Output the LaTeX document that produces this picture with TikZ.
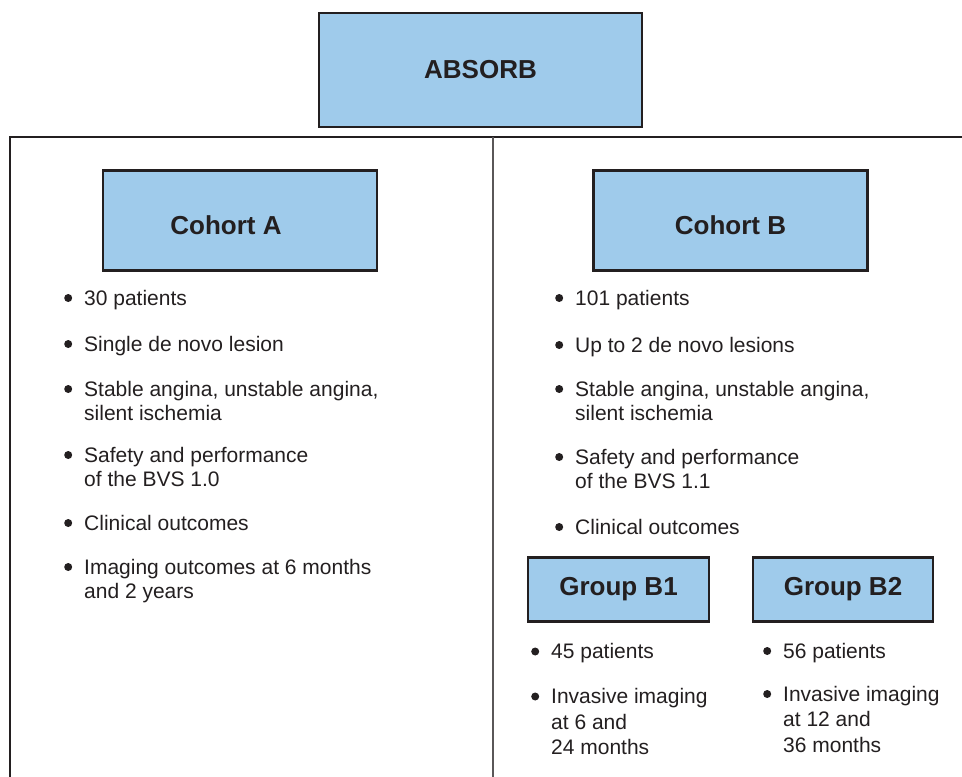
\documentclass[tikz,border=0pt]{standalone}
\usepackage{fontspec}
\setmainfont{Liberation Sans}
\usetikzlibrary{positioning}
\definecolor{boxblue}{RGB}{159,203,235}
\definecolor{ink}{RGB}{35,31,32}
\newcommand{\bul}{\llap{\tikz[baseline]\fill[ink] (0,7pt) circle (4pt);\hspace{12pt}}}

\begin{document}
\begin{tikzpicture}[
            x = 1pt, y = -1pt,
            title/.style = {draw = ink, line width = 2.5pt, fill = boxblue, text = ink, inner sep = 0pt,
                            font = \fontsize{26}{30}\selectfont\bfseries},
            cohort/.style = {title, minimum width = 274, minimum height = 100, text height = 27.6pt},
            entry/.style = {anchor = base west, align = left, inner sep = 0pt, text = ink,
                            font = \fontsize{21}{24.5}\selectfont},
            wide entry/.style = {entry, font = \fontsize{21}{25.5}\selectfont},
            frame/.style = {draw = ink, line width = 2.5pt},
            divider/.style = {draw = ink!75, line width = 1.2pt}
        ]
        \useasboundingbox (0,0) rectangle (962,777);
        % top box and frame
        \node[title, minimum width = 323, minimum height = 114] (absorb) at (480.5,70) {ABSORB};
        \coordinate (tl) at (10,137);
        \coordinate (tr) at (962,137);
        \coordinate (bl) at (10,777);
        \coordinate (mt) at (493,137);
        \coordinate (mb) at (493,777);
        \draw[frame] (bl) -- (tl) -- (tr);
        \draw[divider] (mt) -- (mb);
        % cohort A (base of a wrapped entry is its last line)
        \node[cohort] (cohA) at (240,220.5) {Cohort A\kern28pt};
        \node[entry] (a1) at (84,305) {\bul 30 patients};
        \node[entry, below = 46pt of a1.base west, anchor = base west] (a2) {\bul Single de novo lesion};
        \node[entry, below = 69.5pt of a2.base west, anchor = base west] (a3) {\bul Stable angina, unstable angina,\\silent ischemia};
        \node[entry, below = 66pt of a3.base west, anchor = base west] (a4) {\bul Safety and performance\\of the BVS 1.0};
        \node[entry, below = 43.5pt of a4.base west, anchor = base west] (a5) {\bul Clinical outcomes};
        \node[entry, below = 68.5pt of a5.base west, anchor = base west] (a6) {\bul Imaging outcomes at 6 months\\and 2 years};
        % cohort B
        \node[cohort] (cohB) at (730.5,220.5) {Cohort B};
        \node[entry] (b1) at (575,305) {\bul 101 patients};
        \node[entry, below = 47pt of b1.base west, anchor = base west] (b2) {\bul Up to 2 de novo lesions};
        \node[entry, below = 68.5pt of b2.base west, anchor = base west] (b3) {\bul Stable angina, unstable angina,\\silent ischemia};
        \node[entry, below = 68pt of b3.base west, anchor = base west] (b4) {\bul Safety and performance\\of the BVS 1.1};
        \node[entry, below = 45.5pt of b4.base west, anchor = base west] (b5) {\bul Clinical outcomes};
        % groups of cohort B
        \node[title, minimum width = 181, minimum height = 64] (grpB1) at (618.5,589.5) {Group B1};
        \node[title, minimum width = 180, minimum height = 64] (grpB2) at (843,589.5) {Group B2};
        \node[entry] (c1) at (551,658.5) {\bul 45 patients};
        \node[wide entry, below = 96pt of c1.base west, anchor = base west] (c2) {\bul Invasive imaging\\at 6 and\\24 months};
        \node[entry] (d1) at (783,658) {\bul 56 patients};
        \node[wide entry, below = 94pt of d1.base west, anchor = base west] (d2) {\bul Invasive imaging\\at 12 and\\36 months};
    \end{tikzpicture}
\end{document}
